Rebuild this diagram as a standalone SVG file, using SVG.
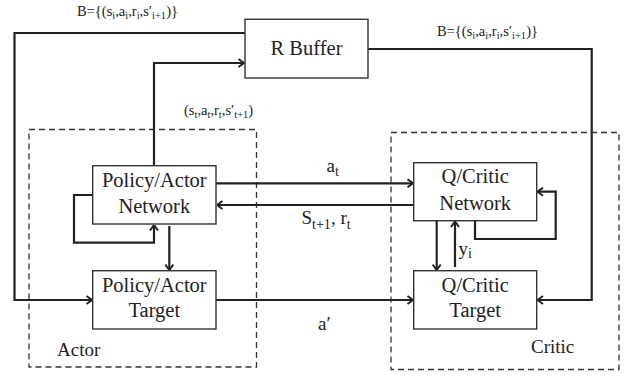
<svg xmlns="http://www.w3.org/2000/svg" width="632" height="377" viewBox="0 0 632 377">
<style>
.box{fill:#fff;stroke:#333;stroke-width:1.4}
.grp{fill:none;stroke:#333;stroke-width:1.3;stroke-dasharray:6,4}
.c{fill:none;stroke:#222;stroke-width:2.2}
.t{font-family:"Liberation Serif","Times New Roman",serif;font-size:20.5px;fill:#222;text-anchor:middle}
.l{font-family:"Liberation Serif","Times New Roman",serif;font-size:19px;fill:#222}
.s{font-family:"Liberation Serif","Times New Roman",serif;font-size:14.5px;fill:#222}
</style>
<defs>
<marker id="arr" viewBox="0 0 10 10" refX="9.5" refY="5" markerWidth="10" markerHeight="10" markerUnits="userSpaceOnUse" orient="auto">
<path d="M4,1 L9.5,5 L4,9" fill="none" stroke="#222" stroke-width="2"/>
</marker>
</defs>
<rect width="632" height="377" fill="#fff"/>
<g id="actor-group">
<rect class="grp" x="29" y="129.5" width="227.5" height="237.5"/>
<text class="l" x="57" y="356" font-size="20.5">Actor</text>
</g>
<g id="critic-group">
<rect class="grp" x="391" y="132.5" width="228" height="237"/>
<text class="l" x="531" y="353" font-size="20.5">Critic</text>
</g>
<g id="connectors">
<path class="c" d="M245,33 H14.5 V300 H92" marker-end="url(#arr)"/>
<path class="c" d="M154,165.7 V63 H244" marker-end="url(#arr)"/>
<path class="c" d="M368,49 H591.7 V300 H537.5" marker-end="url(#arr)"/>
<path class="c" d="M216,183.3 H413" marker-end="url(#arr)"/>
<path class="c" d="M413.7,205 H217" marker-end="url(#arr)"/>
<path class="c" d="M92.7,195 H74 V242.7 H154 V225" marker-end="url(#arr)"/>
<path class="c" d="M169.3,226 V270" marker-end="url(#arr)"/>
<path class="c" d="M216,300 H413" marker-end="url(#arr)"/>
<path class="c" d="M475,220.7 V239 H555.7 V191.7 H537.5" marker-end="url(#arr)"/>
<path class="c" d="M436.7,220.7 V270" marker-end="url(#arr)"/>
<path class="c" d="M455,267 V221.5" marker-end="url(#arr)"/>
<text class="s" x="77" y="16">B={(s<tspan font-size="10.5" dy="3">i</tspan><tspan dy="-3">,a</tspan><tspan font-size="10.5" dy="3">i</tspan><tspan dy="-3">,r</tspan><tspan font-size="10.5" dy="3">i</tspan><tspan dy="-3">,s′</tspan><tspan font-size="10.5" dy="3">i+1</tspan><tspan dy="-3">)}</tspan></text>
<text class="s" x="437" y="36">B={(s<tspan font-size="10.5" dy="3">i</tspan><tspan dy="-3">,a</tspan><tspan font-size="10.5" dy="3">i</tspan><tspan dy="-3">,r</tspan><tspan font-size="10.5" dy="3">i</tspan><tspan dy="-3">,s′</tspan><tspan font-size="10.5" dy="3">i+1</tspan><tspan dy="-3">)}</tspan></text>
<text class="s" x="184" y="115">(s<tspan font-size="10.5" dy="3">t</tspan><tspan dy="-3">,a</tspan><tspan font-size="10.5" dy="3">t</tspan><tspan dy="-3">,r</tspan><tspan font-size="10.5" dy="3">t</tspan><tspan dy="-3">,s′</tspan><tspan font-size="10.5" dy="3">t+1</tspan><tspan dy="-3">)</tspan></text>
<text class="l" x="326.5" y="172">a<tspan font-size="14" dy="4">t</tspan></text>
<text class="l" x="301.5" y="223.5">S<tspan font-size="14" dy="5">t+1</tspan><tspan dy="-5">, r</tspan><tspan font-size="14" dy="5">t</tspan></text>
<text class="l" x="318" y="330">a′</text>
<text class="l" x="458.5" y="255">y<tspan font-size="14" dy="3">i</tspan></text>
</g>
<g id="r-buffer">
<rect class="box" x="245" y="19.3" width="123" height="58.7"/>
<text class="t" x="306.5" y="55">R Buffer</text>
</g>
<g id="policy-network">
<rect class="box" x="92.7" y="165.7" width="123.3" height="58.3"/>
<text class="t" x="154.3" y="186.7">Policy/Actor</text>
<text class="t" x="154.3" y="212.7">Network</text>
</g>
<g id="policy-target">
<rect class="box" x="92.7" y="270.7" width="123.3" height="58.3"/>
<text class="t" x="154.3" y="291.7">Policy/Actor</text>
<text class="t" x="154.3" y="316.7">Target</text>
</g>
<g id="critic-network">
<rect class="box" x="413.7" y="162.7" width="123" height="58"/>
<text class="t" x="475.2" y="183.3">Q/Critic</text>
<text class="t" x="475.2" y="210">Network</text>
</g>
<g id="critic-target">
<rect class="box" x="413.7" y="270.7" width="123" height="58.3"/>
<text class="t" x="475.2" y="291.7">Q/Critic</text>
<text class="t" x="475.2" y="316.7">Target</text>
</g>
</svg>
